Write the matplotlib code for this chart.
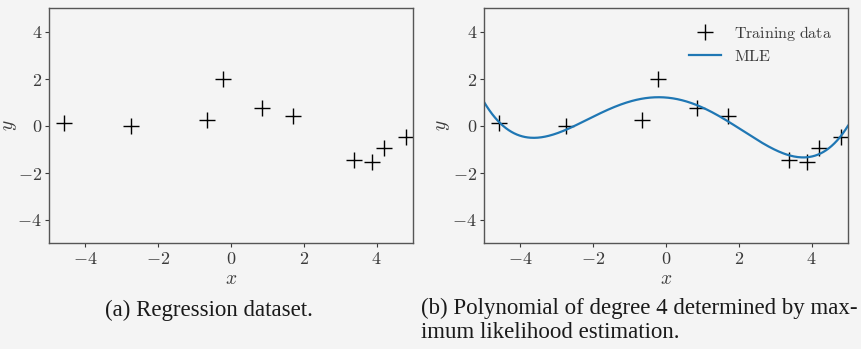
import numpy as np
import matplotlib
matplotlib.use("Agg")
import matplotlib.pyplot as plt
from matplotlib.ticker import FuncFormatter

# training data
x_train = [-4.58, -2.75, -0.66, -0.21, 0.84, 1.69, 3.38, 3.88, 4.21, 4.80]
y_train = [0.10, 0.00, 0.24, 2.00, 0.74, 0.41, -1.45, -1.55, -0.94, -0.48]
degree = 4
ticks = [-4, -2, 0, 2, 4]
captions = ["(a) Regression dataset.",
            "(b) Polynomial of degree 4 determined by max-\nimum likelihood estimation."]

plt.rcParams['mathtext.fontset'] = 'cm'
bg = '#f4f4f4'
txt = '#3a3a3a'

fig = plt.figure(figsize=(8.61, 3.49), dpi=100, facecolor=bg)
ax1 = fig.add_axes([49 / 861, 1 - 243 / 349, 364 / 861, 235 / 349])
ax2 = fig.add_axes([484 / 861, 1 - 243 / 349, 364 / 861, 235 / 349])

coef = np.polyfit(x_train, y_train, degree)
xs = np.linspace(-5, 5, 400)

ax1.plot(x_train, y_train, '+', color='black', markersize=11, markeredgewidth=1.0)
ax2.plot(x_train, y_train, '+', color='black', markersize=11, markeredgewidth=1.0,
         label=r'$\mathrm{Training\ data}$')
ax2.plot(xs, np.polyval(coef, xs), color='#1f77b4', linewidth=1.6, label=r'$\mathrm{MLE}$')

fmt = FuncFormatter(lambda v, p: r'$%d$' % v)
for ax, ylx in ((ax1, -0.082), (ax2, -0.088)):
    ax.set_facecolor(bg)
    ax.set_xlim(-5, 5)
    ax.set_ylim(-5, 5)
    ax.set_xticks(ticks)
    ax.set_yticks(ticks)
    ax.xaxis.set_major_formatter(fmt)
    ax.yaxis.set_major_formatter(fmt)
    ax.tick_params(labelsize=13, colors=txt, length=3, width=0.8, pad=2)
    ax.set_xlabel(r'$x$', fontsize=14, color=txt)
    ax.set_ylabel(r'$y$', fontsize=14, color=txt)
    ax.xaxis.set_label_coords(0.5, -0.11)
    ax.yaxis.set_label_coords(ylx, 0.5)
    for s in ax.spines.values():
        s.set_color('#555555')
        s.set_linewidth(1.0)

leg = ax2.legend(loc='upper right', frameon=False, fontsize=11.5, handlelength=2.0,
                 borderaxespad=0.6, labelspacing=0.35)
for t in leg.get_texts():
    t.set_color(txt)

fig.text(105 / 861, 1 - 310 / 349, captions[0], fontsize=16.5, family='Liberation Serif',
         va='center', ha='left', color='#1a1a1a')
fig.text(421 / 861, 1 - 298 / 349, captions[1], fontsize=16.5, family='Liberation Serif',
         va='top', ha='left', color='#1a1a1a', linespacing=1.2)

fig.savefig('out.png', dpi=100, facecolor=bg)
